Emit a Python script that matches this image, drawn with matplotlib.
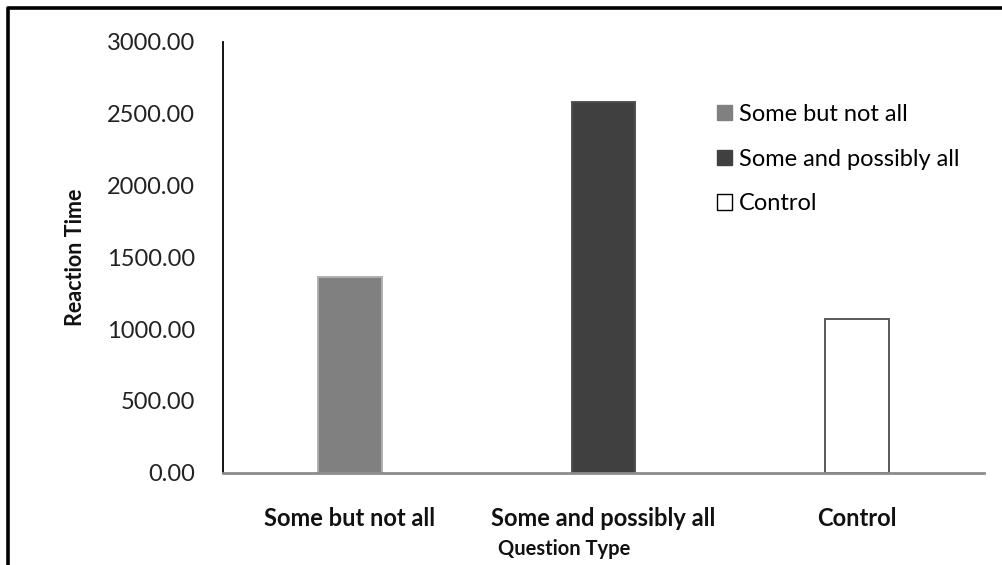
import matplotlib
matplotlib.use("Agg")
import matplotlib.pyplot as plt
from matplotlib.patches import Patch
from matplotlib.lines import Line2D

# Mean reaction time per question type
categories = ["Some but not all", "Some and possibly all", "Control"]
reaction_times = [1360.0, 2580.0, 1073.0]
series_labels = ["Some but not all", "Some and possibly all", "Control"]
y_ticks = [0, 500, 1000, 1500, 2000, 2500, 3000]

face_colors = ["#808080", "#404040", "#ffffff"]
edge_colors = ["#b0b0b0", "#505050", "#595959"]

plt.rcParams["font.family"] = ["Lato", "DejaVu Sans"]

W, H = 1003, 565
fig = plt.figure(figsize=(W / 100, H / 100), dpi=100)
ax = fig.add_axes([223 / W, 1 - 472.5 / H, (984 - 223) / W, (472.5 - 42) / H])

x = list(range(len(categories)))
for xi, val, fc, ec in zip(x, reaction_times, face_colors, edge_colors):
    ax.bar(xi, val, width=0.25, color=fc, edgecolor=ec, linewidth=1.4, zorder=2)

ax.set_xlim(-0.5, len(categories) - 0.5)
ax.set_ylim(0, 3000)
ax.set_yticks(y_ticks)
ax.set_yticklabels([f"{v:.2f}" for v in y_ticks], fontsize=17, color="#222222")
ax.set_xticks(x)
ax.set_xticklabels(categories, fontsize=17, fontweight="bold", color="#111111")
ax.tick_params(axis="y", length=0, pad=20)
ax.tick_params(axis="x", length=0, pad=25)

for side in ("top", "right"):
    ax.spines[side].set_visible(False)
ax.spines["left"].set_color("#000000")
ax.spines["left"].set_linewidth(1.3)
ax.spines["bottom"].set_color("#8c8c8c")
ax.spines["bottom"].set_linewidth(2.0)
ax.spines["bottom"].set_zorder(3)

fig.text(564 / W, 1 - 549 / H, "Question Type", ha="center", va="center",
         fontsize=14.5, fontweight="bold", color="#111111")
fig.text(75 / W, 1 - 257 / H, "Reaction Time", ha="center", va="center",
         rotation=90, fontsize=15.5, fontweight="bold", color="#111111")

handles = [Patch(facecolor=fc, edgecolor=("#000000" if fc == "#ffffff" else fc), linewidth=1.0)
           for fc in face_colors]
fig.legend(handles, series_labels, loc="upper left", bbox_to_anchor=(717 / W, 1 - 104 / H),
           frameon=False, fontsize=17, handlelength=0.62, handleheight=0.62,
           handletextpad=0.3, labelspacing=1.0, borderpad=0, borderaxespad=0)

# Frame drawn along the left and top edges of the figure
fig.add_artist(Line2D([8.5 / W, 8.5 / W, 1.0], [0.0, 1 - 8 / H, 1 - 8 / H],
                      transform=fig.transFigure, color="#000000", linewidth=2.6))

fig.savefig("out.png", dpi=100)
